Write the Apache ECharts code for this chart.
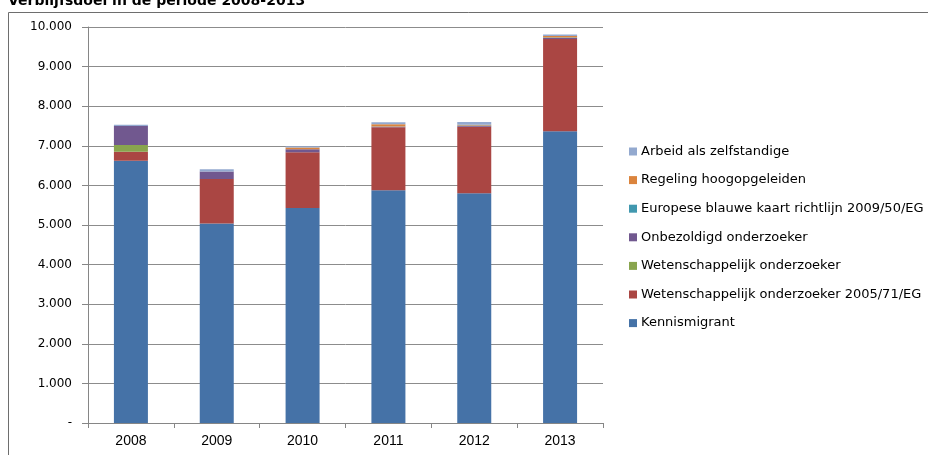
<!DOCTYPE html>
<html>
<head>
<meta charset="utf-8">
<script src="https://cdn.jsdelivr.net/npm/echarts@6/dist/echarts.min.js"></script>
<style>html,body{margin:0;padding:0;background:#fff;}#c{width:928px;height:455px;}</style>
</head>
<body>
<div id="c"></div>
<script>
var years = ['2008','2009','2010','2011','2012','2013'];
var kennismigrant = [6620, 5040, 5430, 5880, 5800, 7370];
var wetOnd2005 = [230, 1120, 1410, 1590, 1680, 2330];
var wetOnd = [170, 0, 0, 0, 0, 0];
var onbezoldigd = [480, 190, 70, 10, 20, 20];
var blauweKaart = [0, 0, 5, 5, 10, 15];
var hoogopgeleiden = [0, 0, 45, 60, 20, 40];
var zelfstandige = [30, 60, 30, 50, 70, 35];
var yTicks = ['-', '1.000', '2.000', '3.000', '4.000', '5.000', '6.000', '7.000', '8.000', '9.000', '10.000'];

var names = ['Kennismigrant', 'Wetenschappelijk onderzoeker 2005/71/EG', 'Wetenschappelijk onderzoeker',
  'Onbezoldigd onderzoeker', 'Europese blauwe kaart richtlijn 2009/50/EG', 'Regeling hoogopgeleiden', 'Arbeid als zelfstandige'];
var colors = ['#4572A7', '#AA4643', '#89A54E', '#71588F', '#4198AF', '#DB843D', '#93A9CF'];
var datas = [kennismigrant, wetOnd2005, wetOnd, onbezoldigd, blauweKaart, hoogopgeleiden, zelfstandige];

var series = names.map(function (n, i) {
  return {
    name: n, type: 'bar', stack: 'total', data: datas[i], barWidth: 34,
    itemStyle: { color: colors[i] }, emphasis: { disabled: true }
  };
});

var chart = echarts.init(document.getElementById('c'), null, { renderer: 'canvas' });
chart.setOption({
  animation: false,
  backgroundColor: '#fff',
  color: colors,
  graphic: [
    { type: 'rect', shape: { x: 8.5, y: 12.5, width: 1000, height: 1000 }, style: { fill: 'none', stroke: '#6e6e6e', lineWidth: 1 }, z: 0 },
    { type: 'text', x: 8, y: 1, style: { text: 'Verblijfsdoel in de periode 2008-2013', font: 'bold 14px "DejaVu Sans", Verdana, sans-serif', fill: '#000', verticalAlign: 'middle' }, z: 10 }
  ],
  grid: { left: 88, right: 325, top: 27, bottom: 32, containLabel: false },
  legend: {
    orient: 'vertical', left: 624, top: 139,
    itemWidth: 8, itemHeight: 8, itemGap: 13.6, icon: 'rect',
    data: names.slice().reverse(),
    textStyle: { fontFamily: '"DejaVu Sans", Verdana, sans-serif', fontSize: 13, color: '#000', lineHeight: 15, padding: [0, 0, 0, -1] }
  },
  xAxis: {
    type: 'category', data: years,
    axisLine: { lineStyle: { color: '#868686', width: 1 } },
    axisTick: { show: true, alignWithLabel: false, length: 5, lineStyle: { color: '#868686' } },
    axisLabel: { color: '#000', fontFamily: '"Liberation Sans Narrow", "Liberation Sans", sans-serif', fontSize: 14, margin: 11 }
  },
  yAxis: {
    type: 'value', min: 0, max: 10000, interval: 1000,
    axisLine: { show: true, lineStyle: { color: '#868686' } },
    axisTick: { show: true, length: 6, lineStyle: { color: '#868686' } },
    splitLine: { lineStyle: { color: '#8c8c8c', width: 1 } },
    axisLabel: {
      color: '#000', fontFamily: '"DejaVu Sans", Verdana, sans-serif', fontSize: 12, margin: 16,
      formatter: function (v) { return yTicks[Math.round(v / 1000)]; }
    }
  },
  series: series
});
</script>
</body>
</html>
